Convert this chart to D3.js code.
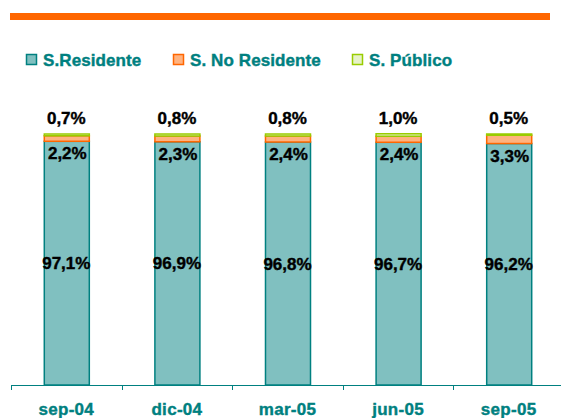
<!DOCTYPE html>
<html lang="es">
<head>
<meta charset="UTF-8">
<title>Sector</title>
<script src="https://cdn.jsdelivr.net/npm/d3@7"></script>
<style>
  body { margin: 0; background: #fff; }
  svg { display: block; font-family: "Liberation Sans", Arial, sans-serif; }
</style>
</head>
<body>
<svg id="chart" width="561" height="418"></svg>
<script>
// datos
var periodos = ["sep-04", "dic-04", "mar-05", "jun-05", "sep-05"];
var residente = [97.1, 96.9, 96.8, 96.7, 96.2];
var noResidente = [2.2, 2.3, 2.4, 2.4, 3.3];
var publico = [0.7, 0.8, 0.8, 1.0, 0.5];
var series = ["S.Residente", "S. No Residente", "S. Público"];

var fills = ["#80C0C0", "#FFB380", "#E6F2C8"];
var strokes = ["#008080", "#FF6600", "#99CC00"];

var svg = d3.select("#chart");

// raya naranja arriba
svg.append("rect").attr("x", 10).attr("y", 13).attr("width", 540).attr("height", 7).attr("fill", "#FF6600");

// leyenda
var legX = [26, 173, 352];
series.forEach(function(s, i) {
  svg.append("rect").attr("x", legX[i] + 0.5).attr("y", 54.5).attr("width", 10).attr("height", 10)
    .attr("fill", fills[i]).attr("stroke", strokes[i]).attr("stroke-width", 1.5);
  svg.append("text").attr("x", legX[i] + 17).attr("y", 65.5).text(s)
    .attr("font-size", 17).attr("font-weight", 700).attr("fill", "#008080")
    .attr("stroke", "#008080").attr("stroke-width", 0.4)
    .attr("letter-spacing", 0.1);
});

var x = d3.scaleBand().domain(periodos).range([11, 564]).paddingInner(0.593).paddingOuter(0.2965);
var y = d3.scaleLinear().domain([0, 100]).range([385, 134]);

// pilas
var rows = periodos.map(function(p, i) {
  return { p: p, r: residente[i], n: noResidente[i], s: publico[i] };
});
var stack = d3.stack().keys(["r", "n", "s"])(rows);

stack.forEach(function(layer, k) {
  svg.append("g").selectAll("rect").data(layer).join("rect")
    .attr("x", function(d) { return x(d.data.p) + 0.5; })
    .attr("y", function(d) { return y(d[1]); })
    .attr("width", x.bandwidth())
    .attr("height", function(d) { return y(d[0]) - y(d[1]); })
    .attr("fill", fills[k])
    .attr("stroke", strokes[k])
    .attr("stroke-width", 1.5);
});

function fmt(v) { return v.toFixed(1).replace(".", ",") + "%"; }

var lab = svg.append("g").attr("font-size", 17).attr("font-weight", 700)
  .attr("fill", "#000").attr("stroke", "#000").attr("stroke-width", 0.4)
  .attr("text-anchor", "middle");

rows.forEach(function(d) {
  var cx = x(d.p) + x.bandwidth() / 2;
  var topR = y(d.r);
  lab.append("text").attr("x", cx).attr("y", (y(0) + topR) / 2 + 6).text(fmt(d.r));
  lab.append("text").attr("x", cx + 1).attr("y", topR + 18).text(fmt(d.n));
  lab.append("text").attr("x", cx).attr("y", y(d.r + d.n + d.s) - 10).text(fmt(d.s));
});

// eje x
var axis = svg.append("g");
axis.append("line").attr("x1", 11).attr("x2", 561).attr("y1", 385.5).attr("y2", 385.5)
  .attr("stroke", "#008080").attr("stroke-width", 1);
var ticks = periodos.map(function(p) { return x(p) - x.step() * x.paddingInner() / 2; });
axis.selectAll("line.t").data(ticks).join("line").attr("class", "t")
  .attr("x1", function(d) { return Math.round(d) + 0.5; })
  .attr("x2", function(d) { return Math.round(d) + 0.5; })
  .attr("y1", 385).attr("y2", 390).attr("stroke", "#008080");
axis.selectAll("text.l").data(periodos).join("text").attr("class", "l")
  .attr("x", function(d) { return x(d) + x.bandwidth() / 2; })
  .attr("y", 415)
  .attr("text-anchor", "middle")
  .attr("font-size", 17).attr("font-weight", 700).attr("fill", "#008080")
  .attr("stroke", "#008080").attr("stroke-width", 0.4)
  .attr("letter-spacing", 0.3)
  .text(function(d) { return d; });
</script>
</body>
</html>
